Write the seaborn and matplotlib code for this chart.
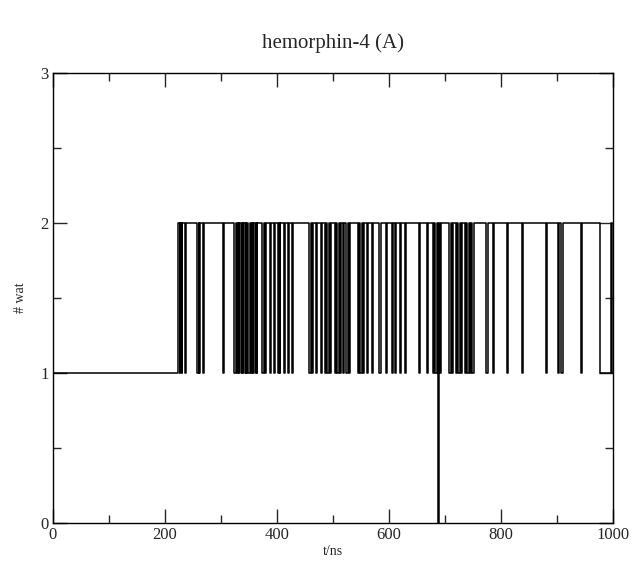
import matplotlib
matplotlib.use("Agg")
import matplotlib.pyplot as plt
import seaborn as sns
import pandas as pd
from matplotlib.ticker import MultipleLocator

# transition times (ns) and number of waters after each transition (step-post)
t_ns = [0, 223,
        226, 227.5, 229.5, 231, 235, 237,
        258, 260, 261.5, 263, 267, 269,
        303, 305,
        324, 326, 328, 330, 331.5, 333, 335, 337, 338.5, 340, 342, 344,
        345.5, 347, 349, 351, 353, 355, 356.5, 358, 360, 362, 363.5, 365,
        374, 376, 379, 381, 387, 389,
        395, 397, 401, 403, 404.5, 406,
        413, 415, 419, 421, 426, 428,
        458, 460, 463, 465, 470, 472,
        479, 481, 485, 487, 490, 492, 494.5, 496,
        503, 505, 508, 510, 513, 515, 517, 519,
        524, 526, 529, 531,
        544, 546, 549, 551, 554, 556, 561, 563,
        570, 572, 583, 585, 595, 597,
        606, 608, 611, 613, 619, 621,
        629, 631,
        654, 656, 667, 669,
        678, 680, 683, 685, 688, 689, 690.5, 692,
        708, 710, 713, 715, 719, 721, 724, 726, 729, 731,
        735, 737, 740, 742, 745, 747, 749, 751,
        774, 776, 785, 787, 810, 812, 837, 839,
        881, 883, 901, 903, 908, 910, 942, 944,
        976, 996, 998, 1000]
n_wat = [1, 2,
         1, 2, 1, 2, 1, 2,
         1, 2, 1, 2, 1, 2,
         1, 2,
         1, 2, 1, 2, 1, 2, 1, 2, 1, 2, 1, 2,
         1, 2, 1, 2, 1, 2, 1, 2, 1, 2, 1, 2,
         1, 2, 1, 2, 1, 2,
         1, 2, 1, 2, 1, 2,
         1, 2, 1, 2, 1, 2,
         1, 2, 1, 2, 1, 2,
         1, 2, 1, 2, 1, 2, 1, 2,
         1, 2, 1, 2, 1, 2, 1, 2,
         1, 2, 1, 2,
         1, 2, 1, 2, 1, 2, 1, 2,
         1, 2, 1, 2, 1, 2,
         1, 2, 1, 2, 1, 2,
         1, 2,
         1, 2, 1, 2,
         1, 2, 1, 2, 0, 2, 1, 2,
         1, 2, 1, 2, 1, 2, 1, 2, 1, 2,
         1, 2, 1, 2, 1, 2, 1, 2,
         1, 2, 1, 2, 1, 2, 1, 2,
         1, 2, 1, 2, 1, 2, 1, 2,
         1, 2, 1, 1]

df = pd.DataFrame({"t": t_ns, "wat": n_wat})

sns.set_style("ticks")
plt.rcParams['font.family'] = ['Liberation Serif', 'DejaVu Serif']

fig = plt.figure(figsize=(6.33, 5.66), dpi=100)
ax = fig.add_axes([0.0837, 0.076, 0.8847, 0.795])

sns.lineplot(x="t", y="wat", data=df, ax=ax, color="black", linewidth=1.1,
             drawstyle="steps-post", estimator=None, sort=False)

ax.set_xlim(0, 1000)
ax.set_ylim(0, 3)
ax.xaxis.set_major_locator(MultipleLocator(200))
ax.xaxis.set_minor_locator(MultipleLocator(100))
ax.yaxis.set_major_locator(MultipleLocator(1))
ax.yaxis.set_minor_locator(MultipleLocator(0.5))
ax.tick_params(which="both", direction="in", top=True, right=True, labelsize=12, pad=3)
ax.tick_params(which="major", length=10, width=1)
ax.tick_params(which="minor", length=6, width=1)
for s in ax.spines.values():
    s.set_linewidth(1)
    s.set_color("black")

ax.set_xlabel("t/ns", fontsize=10, labelpad=1)
ax.set_ylabel("# wat", fontsize=10, labelpad=10)
ax.set_title("hemorphin-4 (A)", fontsize=15, pad=18)

fig.savefig("out.png", dpi=100)
